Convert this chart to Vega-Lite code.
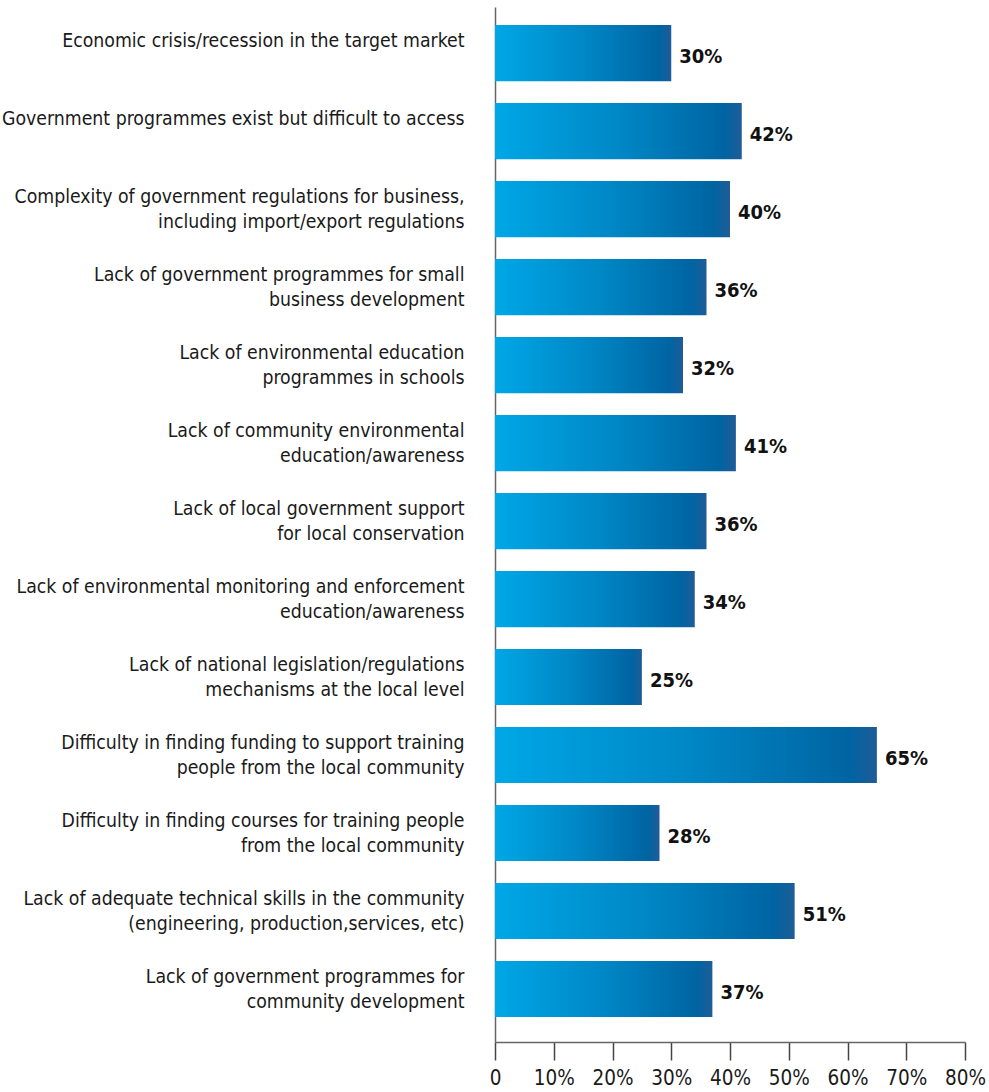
{
  "$schema": "https://vega.github.io/schema/vega-lite/v6.json",
  "width": 470,
  "height": 1035,
  "autosize": {"type": "none"},
  "padding": {"left": 495, "top": 7, "right": 24, "bottom": 50},
  "background": "white",
  "config": {"view": {"stroke": null}, "font": "DejaVu Sans Condensed"},
  "data": {"values": [
    {"category": "Economic crisis/recession in the target market", "value": 30, "pct": "30%"},
    {"category": "Government programmes exist but difficult to access", "value": 42, "pct": "42%"},
    {"category": "Complexity of government regulations for business,|including import/export regulations", "value": 40, "pct": "40%"},
    {"category": "Lack of government programmes for small|business development", "value": 36, "pct": "36%"},
    {"category": "Lack of environmental education|programmes in schools", "value": 32, "pct": "32%"},
    {"category": "Lack of community environmental|education/awareness", "value": 41, "pct": "41%"},
    {"category": "Lack of local government support|for local conservation", "value": 36, "pct": "36%"},
    {"category": "Lack of environmental monitoring and enforcement|education/awareness", "value": 34, "pct": "34%"},
    {"category": "Lack of national legislation/regulations|mechanisms at the local level", "value": 25, "pct": "25%"},
    {"category": "Difficulty in finding funding to support training|people from the local community", "value": 65, "pct": "65%"},
    {"category": "Difficulty in finding courses for training people|from the local community", "value": 28, "pct": "28%"},
    {"category": "Lack of adequate technical skills in the community|(engineering, production,services, etc)", "value": 51, "pct": "51%"},
    {"category": "Lack of government programmes for|community development", "value": 37, "pct": "37%"}
  ]},
  "encoding": {
    "y": {
      "field": "category", "type": "nominal", "sort": null,
      "scale": {"paddingInner": 0.28, "paddingOuter": 0.2756, "align": 0.42},
      "axis": {
        "title": null, "ticks": false, "domainColor": "#666666", "domainWidth": 1.5,
        "labelExpr": "split(datum.label, '|')", "labelAlign": "right", "labelPadding": 31,
        "labelBaseline": "top", "labelOffset": -21, "labelLineHeight": 25,
        "labelFontSize": 19.3, "labelColor": "#1a1a1a", "labelLimit": 600
      }
    },
    "x": {
      "field": "value", "type": "quantitative",
      "scale": {"domain": [0, 80], "nice": false},
      "axis": {
        "title": null, "values": [0, 10, 20, 30, 40, 50, 60, 70, 80], "grid": false,
        "domainColor": "#666666", "domainWidth": 1.5, "tickColor": "#444444", "tickWidth": 1.5,
        "tickSize": 18, "labelPadding": 8, "labelFontSize": 20.5, "labelColor": "#1a1a1a",
        "labelExpr": "datum.value == 0 ? '0' : datum.value + '%'", "labelFlush": false
      }
    }
  },
  "layer": [
    {
      "mark": {
        "type": "bar",
        "color": {
          "gradient": "linear", "x1": 0, "x2": 1, "y1": 0, "y2": 0,
          "stops": [
            {"offset": 0, "color": "#00a7e6"},
            {"offset": 0.5, "color": "#0087c6"},
            {"offset": 0.93, "color": "#0064a2"},
            {"offset": 1, "color": "#1f5c98"}
          ]
        }
      }
    },
    {
      "mark": {"type": "text", "align": "left", "baseline": "middle", "dx": 8, "dy": 4, "fontSize": 20, "fontWeight": "bold", "color": "#111111"},
      "encoding": {"text": {"field": "pct"}}
    }
  ]
}
